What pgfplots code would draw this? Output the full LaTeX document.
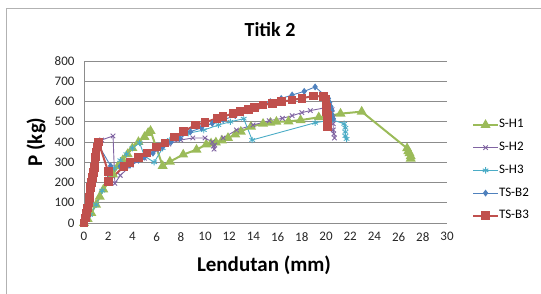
\documentclass[border=0pt]{standalone}
\usepackage{pgfplots}
\pgfplotsset{compat=1.18}
\usepackage{fontspec}
\setmainfont{Carlito}
\definecolor{cSH1}{HTML}{9BBB59}
\definecolor{cSH2}{HTML}{8064A2}
\definecolor{cSH3}{HTML}{4BACC6}
\definecolor{cTB2}{HTML}{4F81BD}
\definecolor{cTB3}{HTML}{C0504D}
\definecolor{gridc}{HTML}{8C8C8C}
\begin{document}
\begin{tikzpicture}[x=1bp,y=1bp]
\useasboundingbox (0,0) rectangle (541,293);
\draw[gray!60, line width=0.8bp] (6,-5) -- (6,285) -- (546,285);
\node[font=\bfseries\fontsize{20bp}{22bp}\selectfont] at (270,263) {Titik 2};
\node[font=\bfseries\fontsize{21bp}{24bp}\selectfont] at (264,28) {Lendutan (mm)};
\node[font=\bfseries\fontsize{21bp}{24bp}\selectfont, rotate=90] at (36,151) {P (kg)};
\begin{axis}[
  at={(84bp,70bp)}, anchor=south west,
  scale only axis, width=363bp, height=162bp,
  xmin=0, xmax=30, ymin=0, ymax=800,
  xtick={0,2,...,30}, ytick={0,100,...,800},
  axis x line*=bottom, axis y line*=left,
  axis line style={gridc, line width=0.8bp, -},
  ymajorgrids, major grid style={gridc, line width=0.8bp},
  major tick length=0pt,
  tick label style={font=\fontsize{13bp}{15bp}\selectfont, text=black!85},
  /pgf/number format/assume math mode=true,
  xticklabel style={yshift=-6bp},
  yticklabel style={xshift=-6bp},
  clip=false,
  legend cell align=left,
  legend style={draw=none, fill=none, at={(1.069,0.325)}, anchor=west,
    inner sep=0pt, outer sep=0pt,
    font=\fontsize{13bp}{15bp}\selectfont,
    nodes={inner sep=0pt, text height=9bp, text depth=3bp},
    row sep=10.7bp,
    /tikz/every even column/.append style={column sep=1bp}},
  legend image code/.code={\draw[mark repeat=2,mark phase=2,#1] plot coordinates {(0bp,0bp) (12.5bp,0bp) (25bp,0bp)};},
]
% S-H1
\addplot[cSH1, line width=2bp, mark=triangle*, mark size=3.8bp, mark options={solid, fill=cSH1}] coordinates {
(0,0) (0.3,20) (0.6,50) (1,90) (1.3,130) (1.6,165) (2,200) (2.4,240) (2.8,280) (3.2,310) (3.6,340) (4,370) (4.5,400) (5,425) (5.3,445) (5.5,455)
(6.5,282) (7.1,303) (8.2,338) (9.3,362) (10.1,388) (10.5,393) (10.9,398) (11.4,408) (11.9,420) (12.5,437) (12.96,451) (13.8,476) (14.8,490) (15.4,495) (15.9,500) (16.9,502) (17.9,508) (19.4,522) (20.2,528) (21.2,540) (22.95,550) (26.7,369) (26.8,355) (26.9,345) (27,330) (27,318)
};
% S-H2
\addplot[cSH2, line width=0.9bp, mark=x, mark size=3.2bp, mark options={solid}] coordinates {
(0,0) (0.5,130) (1,280) (1.46,410) (2.4,430) (2.55,196) (3,235) (3.9,286) (5,320) (6,360) (7,390) (8,410) (9,420) (10,420) (10.6,400) (10.7,380) (10.75,365) (10.8,385)
(11.5,420) (12.6,459) (13.97,484) (15.3,505) (16.4,517) (17.2,530) (18,545) (18.7,555) (20,570) (20.5,560) (20.6,520) (20.6,490) (20.6,460) (20.65,440) (20.7,420)
};
% S-H3
\addplot[cSH3, line width=0.9bp, mark=asterisk, mark size=3.2bp, mark options={solid}] coordinates {
(0,0) (0.5,40) (1,90) (1.5,160) (2,220) (2.5,270) (3,310) (3.5,340) (4,370) (4.6,395) (5,330) (5.8,300) (6.5,370) (7.1,410) (7.9,426) (8.6,443) (9.9,459) (11.1,484) (12.1,500) (13.2,515) (13.9,410)
(19.1,495) (20.5,510) (21.5,490) (21.6,470) (21.6,450) (21.6,430) (21.7,415)
};
% TS-B2
\addplot[cTB2, line width=0.9bp, mark=diamond*, mark size=2.8bp, mark options={solid, fill=cTB2}] coordinates {
(0,0) (0.3,100) (0.5,200) (0.8,300) (1.1,395) (2.2,282) (3,280) (3.8,285) (4.5,310) (5,325) (5.7,345) (6.5,375) (7.2,400) (7.9,418) (8.8,451) (9.7,470) (10.6,492) (11.5,510) (12.5,530) (13.5,555) (14.5,578) (15.4,599) (16.3,615) (17.2,632) (18.2,650) (19.1,672)
(20.2,615) (20.3,595) (20.4,575) (20.5,555) (20.5,535) (20.6,515)
};
% TS-B3
\addplot[cTB3, line width=2bp, mark=square*, mark size=3.3bp, mark options={solid, fill=cTB3}] coordinates {
(0,0) (0.1,25) (0.2,50) (0.3,75) (0.4,100) (0.45,125) (0.5,150) (0.55,175) (0.6,200) (0.7,225) (0.8,250) (0.85,275) (0.9,300) (0.95,325) (1.0,350) (1.1,375) (1.2,400) (2.0,253) (2.0,204) (3.3,280) (3.8,300) (4.5,322) (5.2,345) (6.0,375) (6.7,395) (7.5,425) (8.2,451) (9.2,484) (10,497) (11,517) (11.5,525) (12.3,541) (12.9,550) (13.6,561) (14.1,571) (14.8,583) (15.6,591) (16.3,599) (17.2,607) (18,616) (18.95,627) (19.8,625)
(20.0,610) (20.0,590) (20.05,570) (20.05,550) (20.1,530) (20.1,510) (20.1,490) (20.1,476)
};
\legend{S-H1,S-H2,S-H3,TS-B2,TS-B3}
\end{axis}
\end{tikzpicture}
\end{document}
